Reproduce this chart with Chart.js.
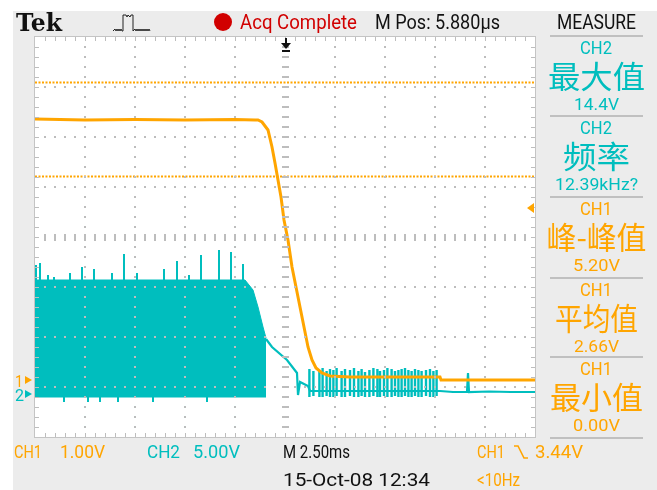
<!DOCTYPE html>
<html>
<head>
<meta charset="utf-8">
<title>Tek scope capture</title>
<script src="https://cdn.jsdelivr.net/npm/chart.js"></script>
<style>
  html, body { margin: 0; padding: 0; background: #fff; }
  #wrap { width: 657px; height: 490px; position: relative; }
</style>
</head>
<body>
<div id="wrap"><canvas id="scope"></canvas></div>
<script>
// time in ms (2.50 ms/div, trigger at centre), volts per channel
const ch1Time  = [-12.5, -10, -7.5, -5, -2.5, -1.5, -1.35, -1.15, -1.0, -0.85, -0.65, -0.5, -0.35, -0.2, -0.05, 0.15, 0.35, 0.55, 0.75, 0.95, 1.15, 1.35, 1.55, 1.85, 2.25, 3.25, 7.75, 7.8, 12.5];
const ch1Volts = [5.22, 5.2, 5.21, 5.2, 5.21, 5.2, 5.2, 5.16, 5.08, 5.0, 4.66, 4.34, 4.0, 3.66, 3.2, 2.8, 2.26, 1.86, 1.46, 1.06, 0.66, 0.4, 0.24, 0.14, 0.08, 0.06, 0.06, 0.0, 0.0];

const cursorVolts = [5.95, 4.07];

// CH2 switching band (envelope)
const bandTime   = [-12.5, -2.0, -1.6, -1.35, -1.1, -0.95];
const bandTop    = [11.4, 11.4, 10.4, 8.7, 6.7, 5.6];
const bandBottom = [-0.3, -0.3, -0.3, -0.3, -0.3, -0.3];

// spikes riding on the band
const spikeTime = [-12.45, -12.25, -11.85, -11.55, -10.75, -10.15, -9.55, -8.65, -8.05, -7.4, -6.05, -5.4, -4.8, -4.2, -3.3, -2.7, -2.1];
const spikeTop  = [12.9, 13.1, 11.9, 11.7, 12.1, 12.7, 12.5, 12.1, 14.0, 12.1, 12.5, 13.3, 11.9, 13.9, 14.4, 14.2, 13.0];
const dipTime   = [-11.05, -9.85, -9.25, -8.35, -6.6, -3.9];
const dipBottom = [-0.8, -0.8, -0.8, -0.8, -0.8, -0.8];

// CH2 after the band stops
const ch2Time  = [-0.95, -0.65, 0.1, 0.6, 0.65, 0.75, 1.15, 1.25, 7.75, 8.4, 9.1, 9.15, 9.2, 10.2, 11.3, 12.5];
const ch2Volts = [5.5, 4.7, 3.4, 2.1, -0.1, 1.2, 0.8, 0.3, 0.3, 0.2, 0.2, 2.1, 0.2, 0.25, 0.2, 0.2];

// short pulses after the edge
const pulseTime   = [1.22, 1.42, 1.72, 1.88, 2.08, 2.25, 2.42, 2.58, 2.83, 3.0, 3.25, 3.45, 3.67, 3.83, 4.0, 4.22, 4.42, 4.62, 4.75, 4.95, 5.12, 5.33, 5.5, 5.67, 5.83, 6.0, 6.17, 6.33, 6.5, 6.67, 6.83, 7.05, 7.25, 7.42, 7.58];
const pulseTop    = [2.5, 2.3, 2.4, 2.6, 2.3, 2.5, 2.4, 2.6, 2.3, 2.5, 2.4, 2.6, 2.3, 2.5, 2.2, 2.4, 2.6, 2.5, 2.3, 2.4, 2.6, 2.5, 2.3, 2.4, 2.5, 2.6, 2.4, 2.3, 2.5, 2.4, 2.3, 2.4, 2.5, 2.3, 2.4];
const pulseBottom = [-0.3, -0.2, -0.3, -0.3, -0.2, -0.3, -0.3, -0.2, -0.3, -0.3, -0.2, -0.3, -0.3, -0.2, -0.3, -0.3, -0.2, -0.3, -0.3, -0.2, -0.3, -0.3, -0.2, -0.3, -0.3, -0.2, -0.3, -0.3, -0.2, -0.3, -0.3, -0.2, -0.3, -0.3, -0.2];

// measurement panel
const measChannel = ['CH2', 'CH2', 'CH1', 'CH1', 'CH1'];
const measName    = ['最大值', '频率', '峰-峰值', '平均值', '最小值'];
const measValue   = ['14.4V', '12.39kHz?', '5.20V', '2.66V', '0.00V'];

const ORANGE = '#ffa500';
const CYAN = '#00bebe';

const xy = (t, v) => t.map((x, i) => ({x: x, y: v[i]}));
function segs(t, lo, hi) {
    const out = [];
    t.forEach((x, i) => {
        out.push({x: x, y: lo[i]}, {x: x, y: hi[i]}, {x: x, y: null});
    });
    return out;
}

function fitText(ctx, s, x, yMid, w, size, color, font) {
    ctx.save();
    ctx.font = size + 'px ' + (font || 'Roboto');
    ctx.fillStyle = color;
    ctx.textBaseline = 'alphabetic';
    const m = ctx.measureText(s).width;
    ctx.translate(x, yMid + size * 0.355);
    ctx.scale(w / m, 1);
    ctx.fillText(s, 0, 0);
    ctx.restore();
}

const scopeBg = {
    id: 'scopeBg',
    beforeDraw(chart) {
        const {ctx, chartArea: a, width, height} = chart;
        ctx.save();
        ctx.fillStyle = '#ffffff';
        ctx.fillRect(0, 0, width, height);
        ctx.fillStyle = '#ececec';
        ctx.fillRect(13, 11, width - 13, height - 11);
        ctx.fillStyle = '#ffffff';
        ctx.fillRect(a.left, a.top, a.right - a.left, a.bottom - a.top);
        ctx.restore();
    }
};

const graticule = {
    id: 'graticule',
    afterDatasetsDraw(chart) {
        const {ctx, chartArea: a} = chart;
        const dx = (a.right - a.left) / 10, dy = (a.bottom - a.top) / 8;
        ctx.save();
        ctx.fillStyle = '#bdbdbd';
        for (let i = 1; i < 10; i++) {
            if (i === 5) continue;
            const x = Math.round(a.left + i * dx);
            for (let k = 1; k < 40; k++) ctx.fillRect(x - 1, Math.round(a.top + k * dy / 5) - 1, 2, 2);
        }
        for (let j = 1; j < 8; j++) {
            if (j === 4) continue;
            const y = Math.round(a.top + j * dy);
            for (let k = 1; k < 50; k++) ctx.fillRect(Math.round(a.left + k * dx / 5) - 1, y - 1, 2, 2);
        }
        // centre crosshair with minor ticks
        const cx = Math.round(a.left + 5 * dx), cy = Math.round(a.top + 4 * dy);
        for (let k = 1; k < 40; k++) ctx.fillRect(cx - 3, Math.round(a.top + k * dy / 5) - 1, 7, 2);
        for (let k = 1; k < 50; k++) ctx.fillRect(Math.round(a.left + k * dx / 5) - 1, cy - 3, 2, 7);
        // border ticks
        for (let k = 1; k < 50; k++) {
            const x = Math.round(a.left + k * dx / 5);
            ctx.fillRect(x, a.top, 1, 4);
            ctx.fillRect(x, a.bottom - 4, 1, 4);
        }
        for (let k = 1; k < 40; k++) {
            const y = Math.round(a.top + k * dy / 5);
            ctx.fillRect(a.left, y, 4, 1);
            ctx.fillRect(a.right - 4, y, 4, 1);
        }
        ctx.strokeStyle = '#c4c4c4';
        ctx.lineWidth = 1;
        ctx.strokeRect(a.left - 0.5, a.top - 0.5, a.right - a.left + 1, a.bottom - a.top + 1);
        ctx.restore();
    }
};

const labels = {
    id: 'labels',
    afterDraw(chart) {
        const {ctx, chartArea: a} = chart;
        const sx = chart.scales.x, s1 = chart.scales.y1, s2 = chart.scales.y2;
        ctx.save();

        // header
        ctx.font = 'bold 25px "DejaVu Serif", "Liberation Serif", serif';
        ctx.fillStyle = '#111';
        ctx.textBaseline = 'alphabetic';
        ctx.save();
        const tw = ctx.measureText('Tek').width;
        ctx.translate(16, 31);
        ctx.scale(46 / tw, 1);
        ctx.fillText('Tek', 0, 0);
        ctx.restore();

        // acquisition icon
        ctx.strokeStyle = '#222';
        ctx.lineWidth = 1;
        ctx.beginPath();
        ctx.moveTo(113, 31);
        for (let i = 0; i < 4; i++) { ctx.lineTo(115 + i * 2, 29); ctx.lineTo(116 + i * 2, 31); }
        ctx.lineTo(123, 31); ctx.lineTo(123, 15); ctx.lineTo(126, 15); ctx.lineTo(127, 17);
        ctx.lineTo(128, 15); ctx.lineTo(130, 17); ctx.lineTo(131, 15); ctx.lineTo(133, 15);
        ctx.lineTo(133, 31);
        for (let i = 0; i < 8; i++) { ctx.lineTo(135 + i * 2, 29); ctx.lineTo(136 + i * 2, 31); }
        ctx.stroke();

        ctx.fillStyle = '#d10000';
        ctx.beginPath();
        ctx.arc(223, 22, 9, 0, Math.PI * 2);
        ctx.fill();
        fitText(ctx, 'Acq Complete', 240, 22, 117, 20, '#d10000');
        fitText(ctx, 'M Pos: 5.880µs', 375, 22, 125, 20, '#111');
        fitText(ctx, 'MEASURE', 557, 22, 79, 20, '#111');

        // measure panel
        const lines = [36, 116, 197, 278, 357, 438];
        ctx.fillStyle = '#c0c0c0';
        lines.forEach(y => ctx.fillRect(550, y - 1, 93, 2));
        const cjkW = [97, 67, 100, 83, 93];
        const valW = [45, 83, 47, 45, 47];
        for (let i = 0; i < 5; i++) {
            const top = lines[i];
            const col = measChannel[i] === 'CH2' ? CYAN : ORANGE;
            fitText(ctx, measChannel[i], 580, top + 11, 32, 19, col);
            ctx.save();
            ctx.font = '31px "Noto Sans CJK SC"';
            ctx.fillStyle = col;
            ctx.textBaseline = 'middle';
            const m = ctx.measureText(measName[i]).width;
            ctx.translate(596.5 - cjkW[i] / 2, top + 40);
            ctx.scale(cjkW[i] / m, 1);
            ctx.fillText(measName[i], 0, 0);
            ctx.restore();
            fitText(ctx, measValue[i], 596.5 - valW[i] / 2, top + 68, valW[i], 17, col);
        }

        // bottom status line
        fitText(ctx, 'CH1', 14, 452, 28, 18, ORANGE);
        fitText(ctx, '1.00V', 60, 452, 45, 18, ORANGE);
        fitText(ctx, 'CH2', 147, 452, 33, 18, CYAN);
        fitText(ctx, '5.00V', 193, 452, 47, 18, CYAN);
        fitText(ctx, 'M 2.50ms', 283, 452, 67, 18, '#111');
        fitText(ctx, '15-Oct-08 12:34', 283, 480, 147, 18, '#111');
        fitText(ctx, 'CH1', 477, 452, 28, 18, ORANGE);
        fitText(ctx, '3.44V', 535, 452, 48, 18, ORANGE);
        fitText(ctx, '<10Hz', 477, 480, 43, 18, ORANGE);
        ctx.strokeStyle = ORANGE;
        ctx.lineWidth = 1.6;
        ctx.beginPath();
        ctx.moveTo(514, 446); ctx.lineTo(518, 446); ctx.lineTo(524, 458); ctx.lineTo(528, 458);
        ctx.stroke();

        // channel ground markers
        const g1 = s1.getPixelForValue(0), g2 = s2.getPixelForValue(0);
        fitText(ctx, '1', 15, g1 + 1, 8, 16, ORANGE);
        fitText(ctx, '2', 15, g2 + 1, 9, 16, CYAN);
        [[g1, ORANGE], [g2, CYAN]].forEach(([g, c]) => {
            ctx.fillStyle = c;
            ctx.beginPath();
            ctx.moveTo(25, g - 4); ctx.lineTo(32, g); ctx.lineTo(25, g + 4);
            ctx.fill();
        });

        // trigger position and level
        const tx = sx.getPixelForValue(0) + 1;
        ctx.fillStyle = '#111';
        ctx.fillRect(tx - 1, 38, 2, 6);
        ctx.beginPath();
        ctx.moveTo(tx - 5, 43); ctx.lineTo(tx + 5, 43); ctx.lineTo(tx, 49);
        ctx.fill();
        ctx.fillRect(tx - 4, 50, 8, 2);
        const ty = s1.getPixelForValue(3.44);
        ctx.fillStyle = ORANGE;
        ctx.beginPath();
        ctx.moveTo(a.right - 8, ty); ctx.lineTo(a.right - 1, ty - 5); ctx.lineTo(a.right - 1, ty + 5);
        ctx.fill();
        ctx.restore();
    }
};

new Chart(document.getElementById('scope'), {
    type: 'line',
    data: {
        datasets: [
            {label: 'CH1', data: xy(ch1Time, ch1Volts), yAxisID: 'y1', borderColor: ORANGE, borderWidth: 3, order: 0},
            {label: 'cursor a', data: xy([-12.5, 12.5], [cursorVolts[0], cursorVolts[0]]), yAxisID: 'y1', borderColor: ORANGE, borderWidth: 2, borderDash: [2, 1.5], order: 1},
            {label: 'cursor b', data: xy([-12.5, 12.5], [cursorVolts[1], cursorVolts[1]]), yAxisID: 'y1', borderColor: ORANGE, borderWidth: 2, borderDash: [2, 1.5], order: 1},
            {label: 'CH2 band', data: xy(bandTime, bandTop), yAxisID: 'y2', borderColor: CYAN, backgroundColor: CYAN, borderWidth: 1, fill: '+1', order: 5},
            {label: 'CH2 band low', data: xy(bandTime, bandBottom), yAxisID: 'y2', borderColor: CYAN, borderWidth: 1, order: 5},
            {label: 'CH2 spikes', data: segs(spikeTime, spikeTime.map(() => 11.0), spikeTop).concat(segs(dipTime, dipTime.map(() => -0.3), dipBottom)), yAxisID: 'y2', borderColor: CYAN, borderWidth: 2, spanGaps: false, order: 4},
            {label: 'CH2', data: xy(ch2Time, ch2Volts), yAxisID: 'y2', borderColor: CYAN, borderWidth: 2.2, order: 3},
            {label: 'CH2 pulses', data: segs(pulseTime, pulseBottom, pulseTop), yAxisID: 'y2', borderColor: CYAN, borderWidth: 2.4, spanGaps: false, order: 3}
        ]
    },
    options: {
        responsive: true,
        maintainAspectRatio: false,
        animation: false,
        elements: {point: {radius: 0}, line: {tension: 0}},
        layout: {padding: {left: 35, right: 122, top: 37, bottom: 53}},
        plugins: {legend: {display: false}, tooltip: {enabled: false}},
        scales: {
            x: {type: 'linear', min: -12.5, max: 12.5, display: false},
            y1: {min: -1.14, max: 6.86, display: false},
            y2: {min: -4.3, max: 35.7, display: false}
        }
    },
    plugins: [scopeBg, graticule, labels]
});
</script>
</body>
</html>
